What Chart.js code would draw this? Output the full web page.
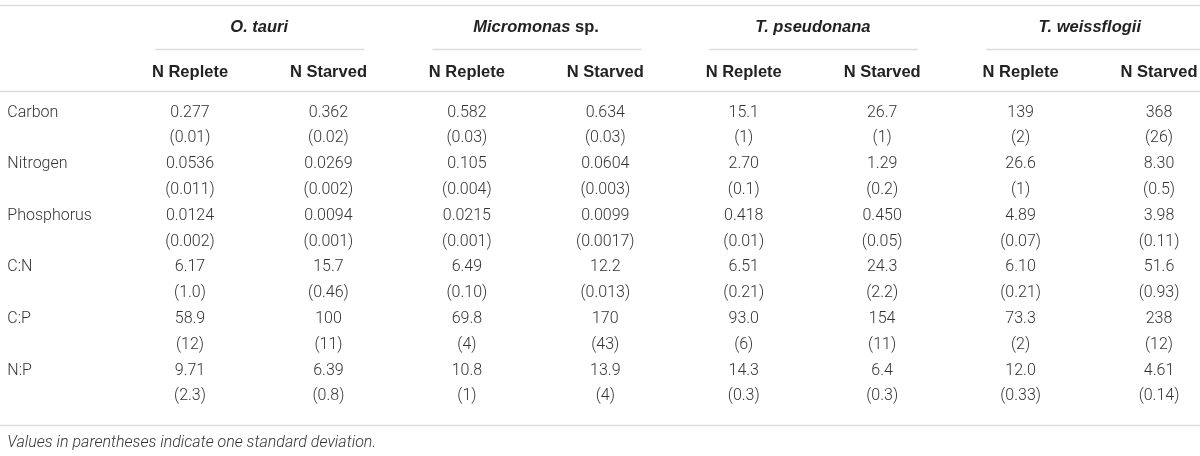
<!DOCTYPE html>
<html>
<head>
<meta charset="utf-8">
<script src="https://cdn.jsdelivr.net/npm/chart.js@4.4.1/dist/chart.umd.min.js"></script>
<style>
    html, body { margin: 0; padding: 0; background: #fff; }
</style>
</head>
<body>
<canvas id="table" width="1200" height="456"></canvas>
<script>
const species = ['O. tauri', 'Micromonas sp.', 'T. pseudonana', 'T. weissflogii'];
const conditions = ['N Replete', 'N Starved'];
const rowLabels = ['Carbon', 'Nitrogen', 'Phosphorus', 'C:N', 'C:P', 'N:P'];

// columns: O. tauri NR, NS, Micromonas NR, NS, T. pseudonana NR, NS, T. weissflogii NR, NS
const carbon = ['0.277', '0.362', '0.582', '0.634', '15.1', '26.7', '139', '368'];
const carbonSd = ['0.01', '0.02', '0.03', '0.03', '1', '1', '2', '26'];
const nitrogen = ['0.0536', '0.0269', '0.105', '0.0604', '2.70', '1.29', '26.6', '8.30'];
const nitrogenSd = ['0.011', '0.002', '0.004', '0.003', '0.1', '0.2', '1', '0.5'];
const phosphorus = ['0.0124', '0.0094', '0.0215', '0.0099', '0.418', '0.450', '4.89', '3.98'];
const phosphorusSd = ['0.002', '0.001', '0.001', '0.0017', '0.01', '0.05', '0.07', '0.11'];
const cn = ['6.17', '15.7', '6.49', '12.2', '6.51', '24.3', '6.10', '51.6'];
const cnSd = ['1.0', '0.46', '0.10', '0.013', '0.21', '2.2', '0.21', '0.93'];
const cp = ['58.9', '100', '69.8', '170', '93.0', '154', '73.3', '238'];
const cpSd = ['12', '11', '4', '43', '6', '11', '2', '12'];
const np = ['9.71', '6.39', '10.8', '13.9', '14.3', '6.4', '12.0', '4.61'];
const npSd = ['2.3', '0.8', '1', '4', '0.3', '0.3', '0.33', '0.14'];

const footnote = 'Values in parentheses indicate one standard deviation.';

const means = [carbon, nitrogen, phosphorus, cn, cp, np];
const sds = [carbonSd, nitrogenSd, phosphorusSd, cnSd, cpSd, npSd];

// table layout in scale units (x: column index, y: text row index)
const layout = {
    labelX: -0.32,
    titleY: -3.31,
    subY: -1.57,
    topRule: -4.17,
    titleRule: -2.46,
    headRule: -0.83,
    bottomRule: 12.11,
    noteY: 12.81
};

const bodyFont = '300 16px Roboto, "Liberation Sans", sans-serif';
const boldFont = 'bold 16.5px "Liberation Sans", Arial, sans-serif';
const boldItalic = 'italic bold 16.5px "Liberation Sans", Arial, sans-serif';

// one dataset per data column; each point is a cell
const datasets = [];
for (let c = 0; c < 8; c++) {
    const data = [];
    for (let r = 0; r < rowLabels.length; r++) {
        data.push({ x: c + 1, y: 2 * r, text: means[r][c] });
        data.push({ x: c + 1, y: 2 * r + 1, text: '(' + sds[r][c] + ')' });
    }
    datasets.push({
        label: species[Math.floor(c / 2)] + ' ' + conditions[c % 2],
        data: data,
        pointRadius: 0,
        align: 'center'
    });
}
datasets.push({
    label: 'rows',
    data: rowLabels.map((l, r) => ({ x: layout.labelX, y: 2 * r, text: l })),
    pointRadius: 0,
    align: 'left'
});

const tablePlugin = {
    id: 'tablePlugin',
    beforeDatasetsDraw(chart) {
        const { ctx, chartArea, scales: { x, y } } = chart;
        ctx.save();
        ctx.strokeStyle = '#dcdcdc';
        ctx.lineWidth = 1.5;
        [layout.topRule, layout.headRule, layout.bottomRule].forEach(v => {
            const py = Math.round(y.getPixelForValue(v)) + 0.5;
            ctx.beginPath();
            ctx.moveTo(chartArea.left, py);
            ctx.lineTo(chartArea.right, py);
            ctx.stroke();
        });
        species.forEach((s, i) => {
            const py = Math.round(y.getPixelForValue(layout.titleRule)) + 0.5;
            const end = i === species.length - 1 ? chartArea.right : x.getPixelForValue(2 * i + 2.26);
            ctx.beginPath();
            ctx.moveTo(x.getPixelForValue(2 * i + 0.75), py);
            ctx.lineTo(end, py);
            ctx.stroke();
        });
        ctx.restore();
    },
    afterDatasetsDraw(chart) {
        const { ctx, scales: { x, y } } = chart;
        ctx.save();
        ctx.textBaseline = 'middle';

        // species titles
        ctx.fillStyle = '#222';
        const ty = y.getPixelForValue(layout.titleY);
        species.forEach((s, i) => {
            const cx = x.getPixelForValue(2 * i + 1.5);
            const parts = s.endsWith(' sp.') ? [[s.slice(0, -4), boldItalic], [' sp.', boldFont]] : [[s, boldItalic]];
            let w = 0;
            parts.forEach(p => { ctx.font = p[1]; w += ctx.measureText(p[0]).width; });
            let px = cx - w / 2;
            ctx.textAlign = 'left';
            parts.forEach(p => {
                ctx.font = p[1];
                ctx.fillText(p[0], px, ty);
                px += ctx.measureText(p[0]).width;
            });
        });

        // condition sub-headers
        ctx.font = boldFont;
        ctx.textAlign = 'center';
        const sy = y.getPixelForValue(layout.subY);
        for (let c = 0; c < 8; c++) {
            ctx.fillText(conditions[c % 2], x.getPixelForValue(c + 1), sy);
        }

        // cells
        ctx.font = bodyFont;
        ctx.fillStyle = '#333';
        chart.data.datasets.forEach((ds, i) => {
            const meta = chart.getDatasetMeta(i);
            ctx.textAlign = ds.align;
            meta.data.forEach((pt, j) => {
                ctx.fillText(ds.data[j].text, pt.x, pt.y);
            });
        });

        // footnote
        ctx.font = 'italic ' + bodyFont;
        ctx.textAlign = 'left';
        ctx.fillText(footnote, x.getPixelForValue(layout.labelX), y.getPixelForValue(layout.noteY));
        ctx.restore();
    }
};

new Chart(document.getElementById('table'), {
    type: 'scatter',
    data: { datasets: datasets },
    options: {
        responsive: false,
        animation: false,
        events: [],
        layout: { padding: 0 },
        plugins: {
            legend: { display: false },
            tooltip: { enabled: false }
        },
        scales: {
            x: { type: 'linear', min: -0.3726, max: 8.296, display: false },
            y: { type: 'linear', reverse: true, min: -4.36, max: 13.31, display: false }
        }
    },
    plugins: [tablePlugin]
});
</script>
</body>
</html>
